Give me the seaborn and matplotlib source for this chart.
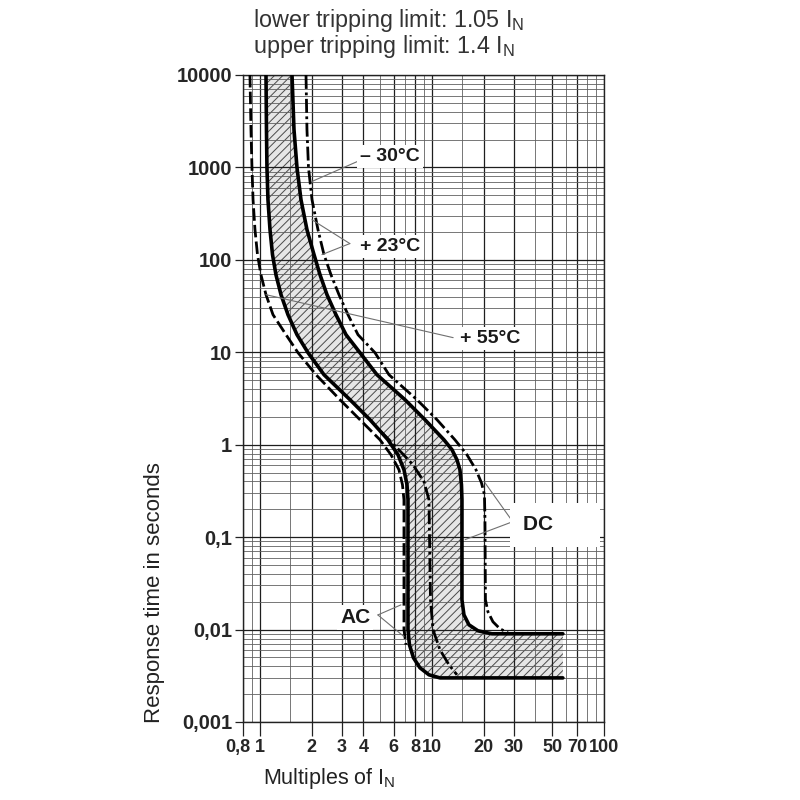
import matplotlib
matplotlib.use('Agg')
import matplotlib.pyplot as plt
import matplotlib.transforms as mtrans
from matplotlib.ticker import FixedLocator, LogLocator, NullFormatter
import seaborn as sns

# --- Kennlinien, x = Vielfache von I_N, t = Sekunden ---
# +23 C untere Grenze (durchgezogen)
lo23_x = [1.088, 1.095, 1.102, 1.117, 1.148, 1.187, 1.243, 1.330, 1.460, 1.647, 1.908,
          2.363, 3.345, 4.372, 5.560, 6.357, 6.888, 7.172, 7.268, 7.268, 7.41, 7.82,
          8.53, 9.62, 11.15, 57.7]
lo23_t = [10000, 2566, 995, 448, 212, 114, 69, 42, 25.5, 15.5, 9.9, 5.72, 3.07, 1.865,
          1.13, 0.779, 0.536, 0.369, 0.254, 0.01, 0.00685, 0.00495, 0.00386, 0.00324,
          0.003, 0.003]
# +23 C obere Grenze (durchgezogen)
hi23_x = [1.541, 1.582, 1.647, 1.737, 1.882, 2.068, 2.241, 2.460, 2.774, 3.172, 3.823,
          4.800, 6.983, 9.12, 11.76, 13.09, 13.99, 14.56, 14.86, 14.96, 14.96, 15.36,
          16.42, 18.53, 22.34, 57.7]
hi23_t = [10000, 2566, 995, 448, 212, 114, 69, 42, 25.5, 15.5, 9.9, 5.72, 3.07, 1.865,
          1.13, 0.883, 0.688, 0.536, 0.369, 0.254, 0.021, 0.01445, 0.01127, 0.0097,
          0.009, 0.009]
# -30 C (strich-punkt)
m30_x = [1.858, 1.882, 1.921, 2.013, 2.181, 2.363, 2.595, 2.888, 3.258, 3.724, 4.674,
         5.635, 8.19, 10.71, 13.62, 15.99, 18.04, 19.41, 20.21, 20.35, 20.48, 21.17,
         22.64, 24.86, 27.67]
m30_t = [10000, 2566, 995, 448, 212, 114, 69, 42, 25.5, 15.5, 9.9, 5.72, 3.07, 1.865,
         1.13, 0.779, 0.536, 0.388, 0.288, 0.154, 0.021, 0.0156, 0.01215, 0.0102,
         0.00923]
# +55 C (gestrichelt)
p55_x = [0.878, 0.890, 0.902, 0.915, 0.939, 0.971, 1.017, 1.088, 1.195, 1.422, 1.669,
         2.123, 2.927, 3.823, 4.998, 5.789, 6.443, 6.750, 6.888, 6.888, 7.076]
p55_t = [10000, 2566, 995, 448, 212, 114, 69, 42, 25.5, 15.5, 9.9, 5.72, 3.07, 1.865,
         1.13, 0.779, 0.536, 0.369, 0.254, 0.01, 0.00685]
# AC obere Grenze (strich-punkt, innen)
ac_x = [5.06, 6.19, 7.77, 9.00, 9.62, 9.82, 10.15, 11.15, 12.57, 13.99]
ac_t = [1.383, 0.951, 0.607, 0.398, 0.254, 0.021, 0.01, 0.00604, 0.00416, 0.00324]

# Achsen
x_ticks = [0.8, 1, 2, 3, 4, 6, 8, 10, 20, 30, 50, 70, 100]
x_ticklabels = ['0,8', '1', '2', '3', '4', '6', '8', '10', '20', '30', '50', '70', '100']
x_minor = [0.9, 1.5, 5, 7, 9, 15, 40, 60, 80, 90]
y_ticks = [0.001, 0.01, 0.1, 1, 10, 100, 1000, 10000]
y_ticklabels = ['0,001', '0,01', '0,1', '1', '10', '100', '1000', '10000']

# Beschriftungen im Diagramm
note_text = ['– 30°C', '+ 23°C', '+ 55°C', 'DC', 'AC']
note_x = [3.82, 3.82, 14.55, 33.7, 2.93]
note_t = [1309, 139, 14.0, 0.136, 0.0134]
# Hinweislinien: (x0, t0, x1, t1)
leaders = [
    (3.67, 1153, 2.0, 702),
    (3.34, 150, 2.01, 272),
    (3.34, 150, 2.30, 114),
    (13.3, 14.4, 1.088, 42),
    (29.5, 0.147, 20.35, 0.388),
    (29.5, 0.147, 15.6, 0.094),
    (4.86, 0.0144, 6.61, 0.0185),
    (4.86, 0.0144, 6.89, 0.0084),
]

sns.set_style('white')
plt.rcParams['font.family'] = ['Liberation Sans', 'DejaVu Sans']
plt.rcParams['hatch.linewidth'] = 0.7

fig = plt.figure(figsize=(8, 8), dpi=100)
ax = fig.add_axes([243 / 800, 78 / 800, 361 / 800, 647 / 800])
ax.set_xscale('log')
ax.set_yscale('log')
ax.set_xlim(0.8, 100)
ax.set_ylim(0.001, 10000)

# Raster
ax.set_axisbelow(True)
ax.set_xticks(x_ticks, x_ticklabels, fontweight='bold')
ax.xaxis.set_minor_locator(FixedLocator(x_minor))
ax.xaxis.set_minor_formatter(NullFormatter())
ax.set_yticks(y_ticks, y_ticklabels, fontweight='bold')
ax.yaxis.set_minor_locator(LogLocator(base=10, subs=range(2, 10), numticks=20))
ax.yaxis.set_minor_formatter(NullFormatter())
ax.grid(which='major', color='#1e1e1e', lw=0.9)
ax.grid(which='minor', color='#606060', lw=0.6)
ax.tick_params(which='minor', length=0)
ax.tick_params(axis='x', which='major', bottom=True, length=10, width=0.9,
               color='#222222', labelsize=13, pad=2)
ax.tick_params(axis='y', which='major', left=True, length=6, width=0.9,
               color='#222222', labelsize=14.5, pad=2)
for s in ax.spines.values():
    s.set_color('#222222')
    s.set_linewidth(1.0)
# "0,8" etwas nach links, damit es nicht an der "1" klebt
lab08 = ax.get_xticklabels()[0]
lab08.set_transform(lab08.get_transform()
                    + mtrans.ScaledTranslation(-4 / 72, 0, fig.dpi_scale_trans))

# schraffiertes Band zwischen den +23 C Kurven
band_x = lo23_x + hi23_x[::-1]
band_t = lo23_t + hi23_t[::-1]
ax.fill(band_x, band_t, facecolor=(0.76, 0.76, 0.76, 0.4), edgecolor='#4a4a4a',
        hatch='////', linewidth=0, zorder=0.3)

dash_dot = (0, (5, 1.3, 1, 1.3))
sns.lineplot(x=lo23_x, y=lo23_t, sort=False, estimator=None, color='black',
             lw=2.6, legend=False, ax=ax, zorder=3)
sns.lineplot(x=hi23_x, y=hi23_t, sort=False, estimator=None, color='black',
             lw=2.6, legend=False, ax=ax, zorder=3)
sns.lineplot(x=m30_x, y=m30_t, sort=False, estimator=None, color='black',
             lw=2.0, linestyle=dash_dot, legend=False, ax=ax, zorder=3)
sns.lineplot(x=p55_x, y=p55_t, sort=False, estimator=None, color='black',
             lw=2.0, linestyle=(0, (4.5, 1.5)), legend=False, ax=ax, zorder=3)
sns.lineplot(x=ac_x, y=ac_t, sort=False, estimator=None, color='black',
             lw=2.0, linestyle=dash_dot, legend=False, ax=ax, zorder=3)

for x0, t0, x1, t1 in leaders:
    ax.annotate('', xy=(x1, t1), xytext=(x0, t0),
                arrowprops=dict(arrowstyle='-', color='#707070', lw=0.8,
                                shrinkA=0, shrinkB=0), zorder=4)

for txt, x, t in zip(note_text, note_x, note_t):
    size = 15 if txt in ('DC', 'AC') else 14
    pad = 0.6 if txt == 'DC' else 0.15
    # beim DC-Feld ist der weisse Hintergrund nach rechts breiter
    shown = txt + '      ' if txt == 'DC' else txt
    ax.text(x, t, shown, ha='left', va='center', fontsize=size, fontweight='bold',
            color='#1a1a1a', zorder=5,
            bbox=dict(boxstyle=f'square,pad={pad}', fc='white', ec='none'))

ax.set_xlabel(r'Multiples of I$_\mathregular{N}$', fontsize=15.5, color='#222222')
ax.xaxis.set_label_coords(0.24, -0.068)
ax.set_ylabel('Response time in seconds', fontsize=16, color='#222222')
ax.yaxis.set_label_coords(-0.215, 0.2)

fig.text(253 / 800, 1 - 20 / 800, r'lower tripping limit: 1.05 I$_\mathregular{N}$',
         ha='left', va='center', fontsize=16.8, color='#333333')
fig.text(253 / 800, 1 - 47 / 800, r'upper tripping limit: 1.4 I$_\mathregular{N}$',
         ha='left', va='center', fontsize=16.8, color='#333333')

fig.savefig('out.png', dpi=100, facecolor='white')
